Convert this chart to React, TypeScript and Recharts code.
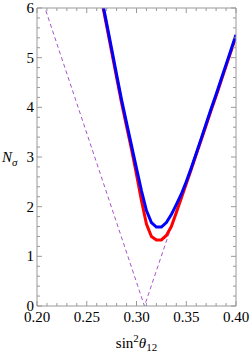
import { LineChart, Line, XAxis, YAxis, Label } from 'recharts';

// sin^2(theta12) grid for the two fit curves
const curveX = [
  0.265, 0.27, 0.275, 0.28, 0.285, 0.29, 0.295, 0.3, 0.305, 0.31, 0.315, 0.32, 0.325, 0.33,
  0.335, 0.34, 0.345, 0.35, 0.355, 0.36, 0.365, 0.37, 0.375, 0.38, 0.385, 0.39, 0.395, 0.4,
];
const redN = [
  6.15, 5.64, 5.12, 4.6, 4.09, 3.62, 3.15, 2.65, 2.12, 1.65, 1.4, 1.33, 1.33, 1.42,
  1.6, 1.88, 2.17, 2.46, 2.75, 3.05, 3.34, 3.64, 3.94, 4.23, 4.53, 4.83, 5.13, 5.43,
];
const blueN = [
  6.2, 5.69, 5.18, 4.66, 4.15, 3.69, 3.23, 2.77, 2.32, 1.92, 1.68, 1.59, 1.59, 1.68,
  1.84, 2.04, 2.25, 2.5, 2.78, 3.07, 3.37, 3.67, 3.97, 4.26, 4.56, 4.86, 5.16, 5.46,
];

// dashed reference V
const dashX = [0.2, 0.308, 0.4];
const dashN = [6.48, 0, 5.45];

const xTicks = [
  0.2, 0.21, 0.22, 0.23, 0.24, 0.25, 0.26, 0.27, 0.28, 0.29, 0.3,
  0.31, 0.32, 0.33, 0.34, 0.35, 0.36, 0.37, 0.38, 0.39, 0.4,
];
const yTicks = [
  0, 0.2, 0.4, 0.6, 0.8, 1, 1.2, 1.4, 1.6, 1.8, 2, 2.2, 2.4, 2.6, 2.8, 3,
  3.2, 3.4, 3.6, 3.8, 4, 4.2, 4.4, 4.6, 4.8, 5, 5.2, 5.4, 5.6, 5.8, 6,
];

const redData = curveX.map((x, i) => ({ x, n: redN[i] }));
const blueData = curveX.map((x, i) => ({ x, n: blueN[i] }));
const dashData = dashX.map((x, i) => ({ x, n: dashN[i] }));

const FONT = '"Liberation Serif", "DejaVu Serif", serif';
const FRAME = '#999';

const isMajorX = (v: number) => Math.round(v * 100) % 5 === 0;
const isMajorY = (v: number) => Math.abs(v - Math.round(v)) < 1e-6;

const makeTick = (side: 'bottom' | 'top' | 'left' | 'right') => (props: any) => {
  const { x, y, payload } = props;
  const v = payload.value as number;
  const major = side === 'bottom' || side === 'top' ? isMajorX(v) : isMajorY(v);
  const len = major ? 5 : 3;
  if (side === 'bottom') {
    return (
      <g>
        <line x1={x} y1={y} x2={x} y2={y - len} stroke={FRAME} strokeWidth={1} />
        {major && (
          <text x={x} y={y + 16} textAnchor="middle" fontFamily={FONT} fontSize={15} fill="#000">
            {v.toFixed(2)}
          </text>
        )}
      </g>
    );
  }
  if (side === 'top') {
    return <line x1={x} y1={y} x2={x} y2={y + len} stroke={FRAME} strokeWidth={1} />;
  }
  if (side === 'left') {
    return (
      <g>
        <line x1={x} y1={y} x2={x + len} y2={y} stroke={FRAME} strokeWidth={1} />
        {major && (
          <text x={x - 3} y={y + 5} textAnchor="end" fontFamily={FONT} fontSize={15} fill="#000">
            {v}
          </text>
        )}
      </g>
    );
  }
  return <line x1={x} y1={y} x2={x - len} y2={y} stroke={FRAME} strokeWidth={1} />;
};

const XTitle = (props: any) => {
  const { viewBox } = props;
  const cx = viewBox.x + viewBox.width / 2;
  return (
    <text x={cx} y={viewBox.y + 42} textAnchor="middle" fontFamily={FONT} fontSize={15} fill="#000">
      sin
      <tspan fontSize={11} dy={-6}>2</tspan>
      <tspan fontStyle="italic" dy={6}>θ</tspan>
      <tspan fontSize={11} dy={3}>12</tspan>
    </text>
  );
};

const YTitle = (props: any) => {
  const { viewBox } = props;
  const cy = viewBox.y + viewBox.height / 2;
  return (
    <text x={2} y={cy + 5} fontFamily={FONT} fontSize={15} fill="#000">
      <tspan fontStyle="italic">N</tspan>
      <tspan fontStyle="italic" fontSize={11} dy={4}>σ</tspan>
    </text>
  );
};

export default function App() {
  return (
    <div style={{ position: 'absolute', left: 0, top: 0, width: 251, height: 354, background: '#fff' }}>
      <LineChart width={251} height={354} margin={{ top: 0, right: 0, bottom: 0, left: 0 }}>
        <XAxis
          xAxisId={0}
          type="number"
          dataKey="x"
          domain={[0.2, 0.4]}
          allowDataOverflow
          ticks={xTicks}
          interval={0}
          height={48}
          tickSize={0}
          tickMargin={0}
          tickLine={false}
          axisLine={{ stroke: FRAME }}
          tick={makeTick('bottom')}
        >
          <Label content={XTitle} />
        </XAxis>
        <XAxis
          xAxisId="top"
          orientation="top"
          type="number"
          dataKey="x"
          domain={[0.2, 0.4]}
          allowDataOverflow
          ticks={xTicks}
          interval={0}
          height={8}
          tickSize={0}
          tickMargin={0}
          tickLine={false}
          axisLine={{ stroke: FRAME }}
          tick={makeTick('top')}
        />
        <YAxis
          yAxisId={0}
          type="number"
          domain={[0, 6]}
          allowDataOverflow
          ticks={yTicks}
          interval={0}
          width={37}
          tickSize={0}
          tickMargin={0}
          tickLine={false}
          axisLine={{ stroke: FRAME }}
          tick={makeTick('left')}
        >
          <Label content={YTitle} />
        </YAxis>
        <YAxis
          yAxisId="right"
          orientation="right"
          type="number"
          domain={[0, 6]}
          allowDataOverflow
          ticks={yTicks}
          interval={0}
          width={15}
          tickSize={0}
          tickMargin={0}
          tickLine={false}
          axisLine={{ stroke: FRAME }}
          tick={makeTick('right')}
        />
        <Line
          data={dashData}
          dataKey="n"
          type="linear"
          stroke="#a855c8"
          strokeWidth={1}
          strokeDasharray="4 3"
          dot={false}
          isAnimationActive={false}
        />
        <Line
          data={redData}
          dataKey="n"
          type="linear"
          stroke="#ff0000"
          strokeWidth={3}
          dot={false}
          isAnimationActive={false}
        />
        <Line
          data={blueData}
          dataKey="n"
          type="linear"
          stroke="#0000ff"
          strokeWidth={3}
          dot={false}
          isAnimationActive={false}
        />
      </LineChart>
    </div>
  );
}
